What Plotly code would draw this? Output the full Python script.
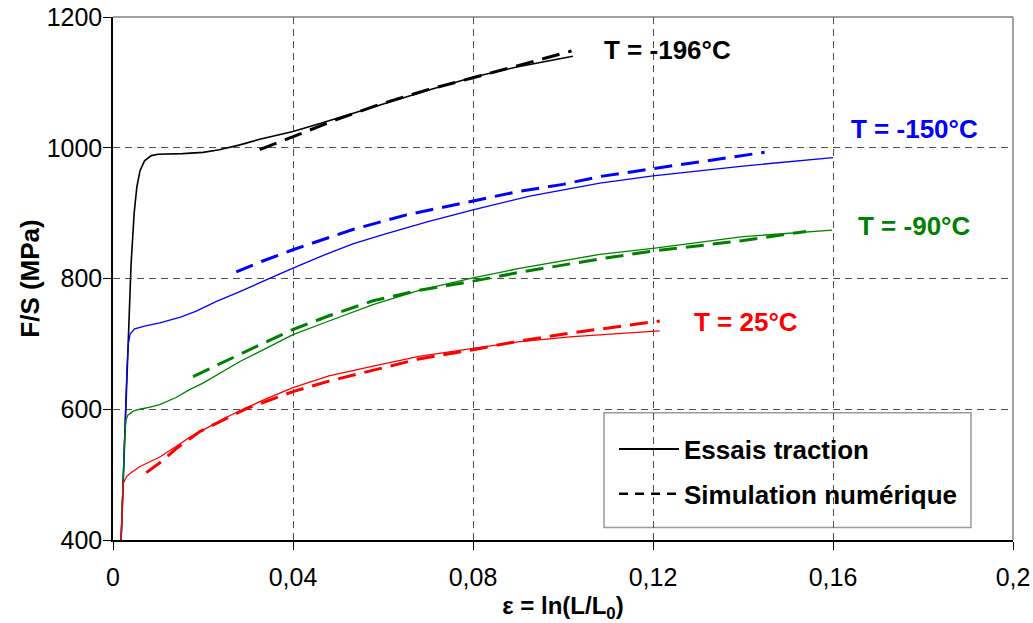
import plotly.graph_objects as go

# ---- data (strain, stress in MPa) ----
exp_m196_x = [0.0018, 0.0030, 0.0040, 0.0047, 0.0053, 0.0060, 0.0070, 0.0085, 0.0100, 0.0155, 0.0200, 0.0236, 0.0280, 0.0326, 0.0400, 0.0460, 0.0526, 0.0600, 0.0700, 0.0800, 0.0900, 0.1022]
exp_m196_y = [400, 640, 820, 900, 940, 965, 980, 988, 990, 991, 993, 997, 1004, 1013, 1025, 1037, 1051, 1066, 1088, 1108, 1124, 1140]
sim_m196_x = [0.0326, 0.0400, 0.0500, 0.0600, 0.0700, 0.0800, 0.0900, 0.1019]
sim_m196_y = [997, 1017, 1044, 1068, 1089, 1107, 1126, 1148]

exp_m150_x = [0.0018, 0.0026, 0.0031, 0.0034, 0.0038, 0.0048, 0.0070, 0.0104, 0.0150, 0.0185, 0.0215, 0.0230, 0.0282, 0.0340, 0.0400, 0.0470, 0.0533, 0.0600, 0.0700, 0.0800, 0.0926, 0.1082, 0.1200, 0.1400, 0.1600]
exp_m150_y = [400, 570, 660, 700, 715, 723, 727, 732, 741, 750, 760, 765, 780, 798, 816, 836, 853, 867, 887, 905, 926, 946, 957, 972, 985]
sim_m150_x = [0.0274, 0.0330, 0.0400, 0.0533, 0.0650, 0.0800, 0.0900, 0.1000, 0.1082, 0.1200, 0.1300, 0.1448]
sim_m150_y = [810, 826, 844, 875, 897, 918, 933, 944, 956, 968, 978, 993]

exp_m90_x = [0.0018, 0.0022, 0.0026, 0.0029, 0.0033, 0.0045, 0.0059, 0.0080, 0.0104, 0.0140, 0.0170, 0.0200, 0.0240, 0.0282, 0.0340, 0.0400, 0.0480, 0.0578, 0.0680, 0.0800, 0.0900, 0.1022, 0.1082, 0.1200, 0.1400, 0.1598]
exp_m90_y = [400, 480, 560, 584, 591, 597, 600, 603, 607, 618, 630, 640, 656, 673, 693, 714, 735, 760, 782, 801, 815, 829, 837, 846, 864, 874]
sim_m90_x = [0.0178, 0.0250, 0.0282, 0.0340, 0.0400, 0.0480, 0.0578, 0.0680, 0.0800, 0.0900, 0.1022, 0.1082, 0.1200, 0.1400, 0.1540]
sim_m90_y = [650, 673, 684, 703, 722, 743, 766, 782, 796, 809, 823, 830, 842, 858, 872]

exp_25_x = [0.0018, 0.0021, 0.0023, 0.0030, 0.0040, 0.0059, 0.0080, 0.0104, 0.0140, 0.0170, 0.0210, 0.0250, 0.0296, 0.0340, 0.0400, 0.0480, 0.0578, 0.0680, 0.0800, 0.0900, 0.1022, 0.1215]
exp_25_y = [400, 460, 487, 497, 503, 512, 519, 527, 543, 557, 572, 587, 602, 616, 633, 651, 666, 681, 693, 703, 711, 720]
sim_25_x = [0.0074, 0.0108, 0.0139, 0.0193, 0.0296, 0.0400, 0.0480, 0.0578, 0.0680, 0.0800, 0.0900, 0.1022, 0.1120, 0.1215]
sim_25_y = [503, 520, 539, 566, 601, 627, 643, 660, 677, 691, 704, 717, 726, 735]

x_tick_vals = [0, 0.04, 0.08, 0.12, 0.16, 0.2]
x_tick_text = ["0", "0,04", "0,08", "0,12", "0,16", "0,2"]
y_tick_vals = [400, 600, 800, 1000, 1200]
y_tick_text = ["400", "600", "800", "1000", "1200"]

labels = ["T = -196°C", "T = -150°C", "T = -90°C", "T = 25°C"]
label_x = [0.1233, 0.1780, 0.1780, 0.1407]
label_y = [1150, 1028, 881, 733]
colors = ["#000000", "#0000FF", "#008000", "#FF0000"]

FONT = "Arial, Liberation Sans, sans-serif"
DASH = "18px,9px"

fig = go.Figure()

series = [
    (exp_m196_x, exp_m196_y, sim_m196_x, sim_m196_y, colors[0], 1.6),
    (exp_m150_x, exp_m150_y, sim_m150_x, sim_m150_y, colors[1], 1.3),
    (exp_m90_x, exp_m90_y, sim_m90_x, sim_m90_y, colors[2], 1.3),
    (exp_25_x, exp_25_y, sim_25_x, sim_25_y, colors[3], 1.3),
]
for ex, ey, sx, sy, col, w in series:
    fig.add_trace(go.Scatter(x=ex, y=ey, mode="lines", line=dict(color=col, width=w),
                             showlegend=False, hoverinfo="skip"))
    fig.add_trace(go.Scatter(x=sx, y=sy, mode="lines", line=dict(color=col, width=3, dash=DASH),
                             showlegend=False, hoverinfo="skip"))

# legend entries
fig.add_trace(go.Scatter(x=[None], y=[None], mode="lines", name="<b>Essais traction</b>",
                         line=dict(color="black", width=2), legendgroup="a"))
fig.add_trace(go.Scatter(x=[None], y=[None], mode="lines", name="<b>Simulation numérique</b>",
                         line=dict(color="black", width=2.5, dash="9px,7px"), legendgroup="b"))

for t, lx, ly, c in zip(labels, label_x, label_y, colors):
    fig.add_annotation(x=lx, y=ly, text=f"<b>{t}</b>", showarrow=False,
                       font=dict(size=26, color=c, family=FONT), xanchor="center", yanchor="middle")

# top and right frame lines (gray)
fig.add_shape(type="line", xref="paper", yref="paper", x0=0, x1=1, y0=1, y1=1,
              line=dict(color="#808080", width=1.5))
fig.add_shape(type="line", xref="paper", yref="paper", x0=1, x1=1, y0=0, y1=1,
              line=dict(color="#808080", width=1.5))
# legend frame
fig.add_shape(type="rect", xref="paper", yref="paper", x0=0.5456, x1=0.9533, y0=0.0237, y1=0.2434,
              line=dict(color="#999999", width=1.5), fillcolor="white", layer="between")

fig.update_layout(
    width=1033, height=623,
    margin=dict(l=113, r=20, t=17, b=83, autoexpand=False),
    paper_bgcolor="white", plot_bgcolor="white",
    font=dict(family=FONT, color="black"),
    legend=dict(x=0.5567, y=0.2186, xanchor="left", yanchor="top",
                bgcolor="rgba(0,0,0,0)", borderwidth=0,
                font=dict(size=26, family=FONT, color="black"),
                tracegroupgap=8, itemwidth=60),
    showlegend=True,
)
fig.update_xaxes(range=[0, 0.2], tickvals=x_tick_vals, ticktext=x_tick_text,
                 automargin=False, ticklabeloverflow="allow",
                 showline=True, linecolor="black", linewidth=1.5,
                 ticks="outside", ticklen=8, tickcolor="black", ticklabelstandoff=6,
                 showgrid=True, gridcolor="#505050", gridwidth=1, griddash="7px,5px",
                 zeroline=False, tickfont=dict(size=25, family=FONT),
                 title=dict(text="<b>ε = ln(L/L<sub>0</sub>)</b>", font=dict(size=24, family=FONT), standoff=12))
fig.update_yaxes(range=[400, 1200], tickvals=y_tick_vals, ticktext=y_tick_text,
                 automargin=False, ticklabeloverflow="allow",
                 showline=True, linecolor="black", linewidth=1.5,
                 ticks="outside", ticklen=8, tickcolor="black", ticklabelstandoff=-4,
                 showgrid=True, gridcolor="#505050", gridwidth=1, griddash="7px,5px",
                 zeroline=False, tickfont=dict(size=25, family=FONT),
                 title=dict(text="<b>F/S (MPa)</b>", font=dict(size=26, family=FONT), standoff=0))

fig.write_html("out.html", config={"displayModeBar": False},
               post_script="document.body.style.margin='0';document.body.style.overflow='hidden';")
